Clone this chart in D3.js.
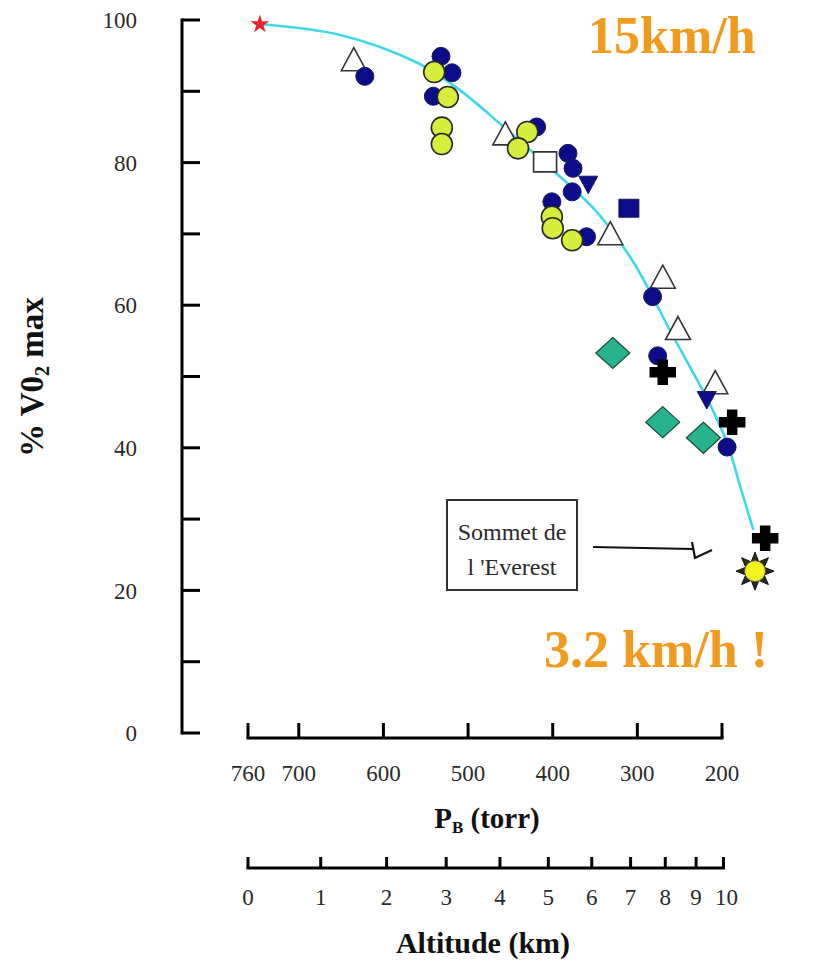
<!DOCTYPE html>
<html><head><meta charset="utf-8">
<script src="https://cdn.jsdelivr.net/npm/d3@7"></script>
<style>body{margin:0;background:#fff}</style>
</head><body>
<svg id="c" width="830" height="969"></svg>
<script>
// ---- data ----
const pressureTicks = [760, 700, 600, 500, 400, 300, 200];
const percentTicks = [0, 20, 40, 60, 80, 100];
const percentMinor = [10, 30, 50, 70, 90];
const altitudeTicks = [0, 1, 2, 3, 4, 5, 6, 7, 8, 9, 10];
const curveP = [746, 651, 560, 510, 456, 409, 348, 305, 282, 263, 241, 218, 194, 179, 163];
const curveV = [99.4, 97.9, 94.0, 90.2, 84.8, 79.9, 73.1, 66.1, 61.2, 56.8, 52.0, 47.0, 40.7, 34.8, 28.5];
const seaLevel = [[746, 99.4]];
const openTriangles = [[635, 94.5], [456, 84.1], [332, 70.1], [270, 64.0], [252, 56.8], [208, 49.2]];
const openSquares = [[409, 80.1]];
const navyCircles = [[622, 92.1], [532, 94.9], [519, 92.6], [541, 89.3], [419, 85.0], [382, 81.3], [376, 79.2],
  [377, 75.9], [401, 74.5], [360, 69.6], [282, 61.2], [276, 52.9], [194, 40.1]];
const yellowCircles = [[540, 92.7], [524, 89.2], [531, 84.9], [531, 82.6], [430, 84.3], [441, 82.0],
  [401, 72.4], [400, 70.8], [377, 69.1]];
const navyDownTriangles = [[358, 76.9], [218, 46.7]];
const navySquares = [[310, 73.6]];
const tealDiamonds = [[329, 53.3], [270, 43.6], [222, 41.4]];
const blackCrosses = [[270, 50.6], [188, 43.6], [149, 27.3]];
const everestSun = [[161, 22.7]];

// ---- scales ----
const svg = d3.select("#c");
const x = d3.scaleLinear().domain([760, 200]).range([248, 722]);
const y = d3.scaleLinear().domain([0, 100]).range([733, 20]);
const baro = h => 760 * Math.pow(1 - 2.25577e-5 * h * 1000, 5.25588); // standard atmosphere
const serif = "'Liberation Serif','Times New Roman',serif";
const ink = "#2a2a2a";

// ---- Y axis ----
const yAxisX = 182;
svg.append("line").attr("x1", yAxisX).attr("x2", yAxisX).attr("y1", y(100) - 1.5).attr("y2", y(0) + 1.5)
  .attr("stroke", "#000").attr("stroke-width", 3);
svg.selectAll(".yt").data(percentTicks.concat(percentMinor)).join("line")
  .attr("x1", yAxisX).attr("x2", yAxisX + 18).attr("y1", d => y(d)).attr("y2", d => y(d))
  .attr("stroke", "#000").attr("stroke-width", 3);
svg.selectAll(".yl").data(percentTicks).join("text")
  .attr("x", 137).attr("y", d => y(d)).attr("dy", "0.36em").attr("text-anchor", "end")
  .attr("font-family", serif).attr("font-size", 23).attr("fill", ink).text(d => d);

const yl = svg.append("text").attr("transform", "translate(43,377) rotate(-90)")
  .attr("text-anchor", "middle").attr("font-family", serif).attr("font-weight", "bold")
  .attr("font-size", 33).attr("fill", "#111");
yl.append("tspan").text("% V0");
yl.append("tspan").attr("font-size", 20).attr("dy", 6).text("2");
yl.append("tspan").attr("dy", -6).text(" max");

// ---- Pressure axis ----
const pY = 738;
svg.append("line").attr("x1", x(760) - 1.5).attr("x2", x(200) + 1.5).attr("y1", pY).attr("y2", pY)
  .attr("stroke", "#000").attr("stroke-width", 3);
svg.selectAll(".pt").data(pressureTicks).join("line")
  .attr("x1", d => x(d)).attr("x2", d => x(d)).attr("y1", pY).attr("y2", pY - 15)
  .attr("stroke", "#000").attr("stroke-width", 3);
svg.selectAll(".pl").data(pressureTicks).join("text")
  .attr("x", d => x(d)).attr("y", 781).attr("text-anchor", "middle")
  .attr("font-family", serif).attr("font-size", 23).attr("fill", ink).text(d => d);
const pl = svg.append("text").attr("x", 487).attr("y", 828).attr("text-anchor", "middle")
  .attr("font-family", serif).attr("font-weight", "bold").attr("font-size", 29).attr("fill", "#111");
pl.append("tspan").text("P");
pl.append("tspan").attr("font-size", 17).attr("dy", 5).text("B");
pl.append("tspan").attr("dy", -5).text(" (torr)");

// ---- Altitude axis ----
const aY = 868;
const ax = h => x(baro(h));
svg.append("line").attr("x1", ax(0) - 1.5).attr("x2", ax(10) + 1.5).attr("y1", aY).attr("y2", aY)
  .attr("stroke", "#000").attr("stroke-width", 3);
svg.selectAll(".at").data(altitudeTicks).join("line")
  .attr("x1", d => ax(d)).attr("x2", d => ax(d)).attr("y1", aY).attr("y2", aY - 11)
  .attr("stroke", "#000").attr("stroke-width", 3);
svg.selectAll(".al").data(altitudeTicks).join("text")
  .attr("x", d => ax(d) + (d === 10 ? 3 : 0)).attr("y", 905).attr("text-anchor", "middle")
  .attr("font-family", serif).attr("font-size", 23).attr("fill", ink).text(d => d);
svg.append("text").attr("x", 483).attr("y", 953).attr("text-anchor", "middle")
  .attr("font-family", serif).attr("font-weight", "bold").attr("font-size", 30).attr("fill", "#111")
  .text("Altitude (km)");

// ---- curve ----
const curvePts = curveP.map((p, i) => [p, curveV[i]]);
svg.append("path").datum(curvePts)
  .attr("d", d3.line().x(d => x(d[0])).y(d => y(d[1])).curve(d3.curveCatmullRom.alpha(0.5)))
  .attr("fill", "none").attr("stroke", "#3ED8E8").attr("stroke-width", 2.6);

// ---- markers ----
function marks(data, pathD, fill, stroke, sw) {
  svg.append("g").selectAll("path").data(data).join("path")
    .attr("transform", d => `translate(${x(d[0])},${y(d[1])})`)
    .attr("d", pathD).attr("fill", fill).attr("stroke", stroke).attr("stroke-width", sw);
}
marks(openTriangles, "M0,-11.5L12.5,11.5L-12.5,11.5Z", "#fff", "#333", 1.6);
marks(openSquares, "M-11.5,-10H11.5V10H-11.5Z", "#fff", "#333", 1.6);
svg.append("g").selectAll("circle").data(navyCircles).join("circle")
  .attr("cx", d => x(d[0])).attr("cy", d => y(d[1])).attr("r", 9)
  .attr("fill", "#0c0c8a").attr("stroke", "#1a1a50").attr("stroke-width", 1);
svg.append("g").selectAll("circle").data(yellowCircles).join("circle")
  .attr("cx", d => x(d[0])).attr("cy", d => y(d[1])).attr("r", 10.5)
  .attr("fill", "#D8EE3C").attr("stroke", "#2a2a2a").attr("stroke-width", 1.6);
marks(navyDownTriangles, "M-9.5,-8.5L9.5,-8.5L0,9Z", "#0c0c8a", "#1a1a50", 1);
marks(navySquares, "M-10,-9H10V9H-10Z", "#0c0c8a", "#1a1a50", 1);
marks(tealDiamonds, "M0,-15.5L17,0L0,15.5L-17,0Z", "#27B38E", "#1d4a3c", 1.2);
marks(blackCrosses, "M-4.5,-12H4.5V-4.5H12.5V4.5H4.5V12H-4.5V4.5H-12.5V-4.5H-4.5Z", "#000", "#000", 1.5);

// Everest sun
const sunRays = d3.range(16).map(i => {
  const a = i * Math.PI / 8 - Math.PI / 2, r = i % 2 === 0 ? 19 : 10;
  return [r * Math.cos(a), r * Math.sin(a)];
});
const sunG = svg.append("g").selectAll("g").data(everestSun).join("g")
  .attr("transform", d => `translate(${x(d[0])},${y(d[1])})`);
sunG.append("path").attr("d", "M" + sunRays.join("L") + "Z").attr("fill", "#2b2b1a").attr("stroke", "#111").attr("stroke-width", 1);
sunG.append("circle").attr("r", 10.5).attr("fill", "#F2F21E").attr("stroke", "#555").attr("stroke-width", 1);

// sea-level star
svg.append("g").selectAll("path").data(seaLevel).join("path")
  .attr("transform", d => `translate(${x(d[0])},${y(d[1])})`)
  .attr("d", d3.symbol().type(d3.symbolStar).size(110)()).attr("fill", "#E8242C");

// ---- annotations ----
svg.append("rect").attr("x", 447).attr("y", 500).attr("width", 130).attr("height", 90)
  .attr("fill", "#fff").attr("stroke", "#333").attr("stroke-width", 2);
svg.append("text").attr("x", 512).attr("y", 540).attr("text-anchor", "middle")
  .attr("font-family", serif).attr("font-size", 24).attr("fill", ink).text("Sommet de");
svg.append("text").attr("x", 512).attr("y", 575).attr("text-anchor", "middle")
  .attr("font-family", serif).attr("font-size", 24).attr("fill", ink).text("l 'Everest");
svg.append("path").attr("d", "M593,547L693,549M692,542L695,558L712,550")
  .attr("fill", "none").attr("stroke", "#111").attr("stroke-width", 2.2);

svg.append("text").attr("x", 588).attr("y", 53).attr("font-family", serif).attr("font-weight", "bold")
  .attr("font-size", 52).attr("fill", "#F29A1C").text("15km/h");
svg.append("text").attr("x", 768).attr("y", 667).attr("text-anchor", "end").attr("font-family", serif)
  .attr("font-weight", "bold").attr("font-size", 52).attr("fill", "#F29A1C").text("3.2 km/h !");
</script>
</body></html>
